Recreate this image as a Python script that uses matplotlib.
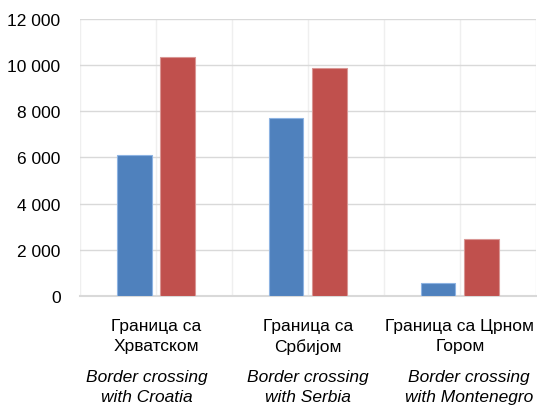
import numpy as np
from matplotlib import pyplot as plt
from matplotlib import font_manager
from matplotlib.ticker import FuncFormatter

# Podaci
kategorije_cir = ['Граница са\nХрватском', 'Граница са\nСрбијом', 'Граница са Црном\nГором']
kategorije_eng = ['Border crossing\nwith Croatia', 'Border crossing\nwith Serbia', 'Border crossing\nwith Montenegro']
serija_1 = [6100, 7700, 550]
serija_2 = [10350, 9870, 2480]

# uski font ako postoji, inače Liberation Sans manje veličine
imena = {f.name for f in font_manager.fontManager.ttflist}
if 'Liberation Sans Narrow' in imena:
    plt.rcParams['font.family'] = ['Liberation Sans Narrow', 'DejaVu Sans']
    fs = 15
else:
    plt.rcParams['font.family'] = ['Liberation Sans', 'DejaVu Sans']
    fs = 12.5

fig = plt.figure(figsize = (5.37, 4.14), dpi = 100)
ax = fig.add_axes([0.149, 0.283, 0.849, 0.669])

x = np.arange(len(serija_1))
w = 0.225
ax.bar(x - 0.142, serija_1, w, color = '#4F81BD', edgecolor = '#8DB3E2', linewidth = 0.8, zorder = 3)
ax.bar(x + 0.142, serija_2, w, color = '#C0504D', edgecolor = '#D99694', linewidth = 0.8, zorder = 3)

ax.set_xlim(-0.5, 2.5)
ax.set_ylim(0, 12000)
ax.set_yticks(np.arange(0, 12001, 2000))
ax.yaxis.set_major_formatter(FuncFormatter(lambda v, p: f'{int(v):,}'.replace(',', ' ')))
ax.tick_params(axis = 'y', length = 0, labelsize = fs, pad = 14)

# vertikalne linije mreže na pola kategorije
ax.set_xticks(np.arange(-0.5, 2.51, 0.5))
ax.set_xticklabels([])
ax.tick_params(axis = 'x', length = 0)
ax.grid(axis = 'x', color = '#efefef', linewidth = 1, zorder = 0)
ax.grid(axis = 'y', color = '#d9d9d9', linewidth = 1, zorder = 0)

for s in ['left', 'right', 'top']:
    ax.spines[s].set_visible(False)
ax.spines['bottom'].set_color('#d9d9d9')
ax.spines['bottom'].set_linewidth(1.5)

# mali horizontalni pomak engleskih natpisa
pomak_eng = [-6.5, 0, 6.5]
for i in range(len(x)):
    ax.annotate(kategorije_cir[i], xy = (i, 0), xycoords = ('data', 'axes fraction'),
                xytext = (0, -16), textcoords = 'offset points', ha = 'center', va = 'top',
                fontsize = fs, linespacing = 1.4)
    ax.annotate(kategorije_eng[i], xy = (i, 0), xycoords = ('data', 'axes fraction'),
                xytext = (pomak_eng[i], -52.5), textcoords = 'offset points', ha = 'center', va = 'top',
                fontsize = fs, style = 'italic', linespacing = 1.4)

fig.savefig('out.png', dpi = 100)
